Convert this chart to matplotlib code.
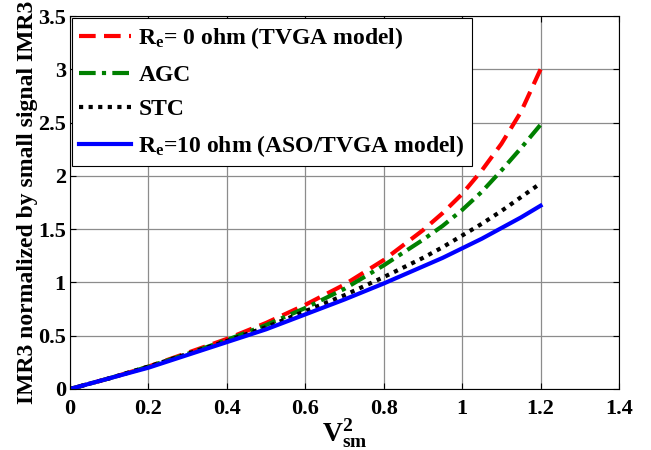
import numpy as np
import matplotlib
matplotlib.use('Agg')
import matplotlib.pyplot as plt

# values
vsm2 = [0, 0.1, 0.2, 0.3, 0.4, 0.5, 0.6, 0.7, 0.8, 0.9, 0.95, 1.0, 1.05, 1.1, 1.15, 1.2]
imr3_re0 = [0, 0.10, 0.21, 0.34, 0.47, 0.62, 0.79, 0.98, 1.21, 1.49, 1.65, 1.83, 2.05, 2.30, 2.60, 3.00]
imr3_agc = [0, 0.10, 0.21, 0.33, 0.46, 0.60, 0.76, 0.94, 1.16, 1.40, 1.53, 1.68, 1.85, 2.05, 2.26, 2.48]
imr3_stc = [0, 0.10, 0.21, 0.33, 0.45, 0.58, 0.73, 0.88, 1.05, 1.23, 1.33, 1.44, 1.55, 1.67, 1.80, 1.93]
imr3_re10 = [0, 0.10, 0.20, 0.32, 0.44, 0.56, 0.70, 0.84, 0.99, 1.15, 1.23, 1.32, 1.41, 1.51, 1.61, 1.72]

labels = [r'R$_\mathbf{e}$= 0 ohm (TVGA model)', 'AGC', 'STC',
          r'R$_\mathbf{e}$=10 ohm (ASO/TVGA model)']

plt.rcParams['font.family'] = 'Liberation Serif'
plt.rcParams['font.weight'] = 'bold'
plt.rcParams['axes.labelweight'] = 'bold'
plt.rcParams['mathtext.fontset'] = 'custom'
plt.rcParams['mathtext.rm'] = 'Liberation Serif:bold'
plt.rcParams['mathtext.bf'] = 'Liberation Serif:bold'
plt.rcParams['mathtext.it'] = 'Liberation Serif:bold'

fig = plt.figure(figsize=(6.51, 4.5), dpi=100)
ax = fig.add_axes([70/651, 1-389/450, (619-70)/651, (389-16)/450])

lw = 3
ax.plot(vsm2, imr3_re0, color='#ff0000', lw=lw, linestyle=(0, (4, 2)), label=labels[0])
ax.plot(vsm2, imr3_agc, color='#008000', lw=lw, linestyle=(0, (4, 1.5, 1, 1.5)), label=labels[1])
ax.plot(vsm2, imr3_stc, color='black', lw=lw, linestyle=(0, (1, 1.3)), label=labels[2])
ax.plot(vsm2, imr3_re10, color='#0000ff', lw=lw, linestyle='-', label=labels[3])

ax.set_xlim(0, 1.4)
ax.set_ylim(0, 3.5)
ax.set_xticks(np.arange(0, 1.41, 0.2))
ax.set_xticklabels(['0', '0.2', '0.4', '0.6', '0.8', '1', '1.2', '1.4'])
ax.set_yticks(np.arange(0, 3.51, 0.5))
ax.set_yticklabels(['0', '0.5', '1', '1.5', '2', '2.5', '3', '3.5'])
ax.tick_params(direction='in', top=True, right=True, labelsize=16, length=4)
ax.tick_params(axis='x', pad=7)
ax.tick_params(axis='y', pad=3)
ax.grid(True, color='#8c8c8c', lw=0.9)
ax.set_axisbelow(True)
for s in ax.spines.values():
    s.set_linewidth(0.8)

ax.set_xlabel(r'V$^\mathbf{2}_\mathbf{sm}$', fontsize=20, fontweight='bold', labelpad=-1)
ax.set_ylabel('IMR3 normalized by small signal IMR3', fontsize=17, fontweight='bold', labelpad=0)

leg = ax.legend(loc='upper left', prop={'family': 'Liberation Serif', 'weight': 'bold', 'size': 17},
                frameon=True, fancybox=False,
                edgecolor='black', framealpha=1, handlelength=2.2, handletextpad=0.3,
                borderaxespad=0.1, labelspacing=0.55, borderpad=0.3)
leg.get_frame().set_linewidth(0.8)

fig.savefig('out.png', dpi=100)
